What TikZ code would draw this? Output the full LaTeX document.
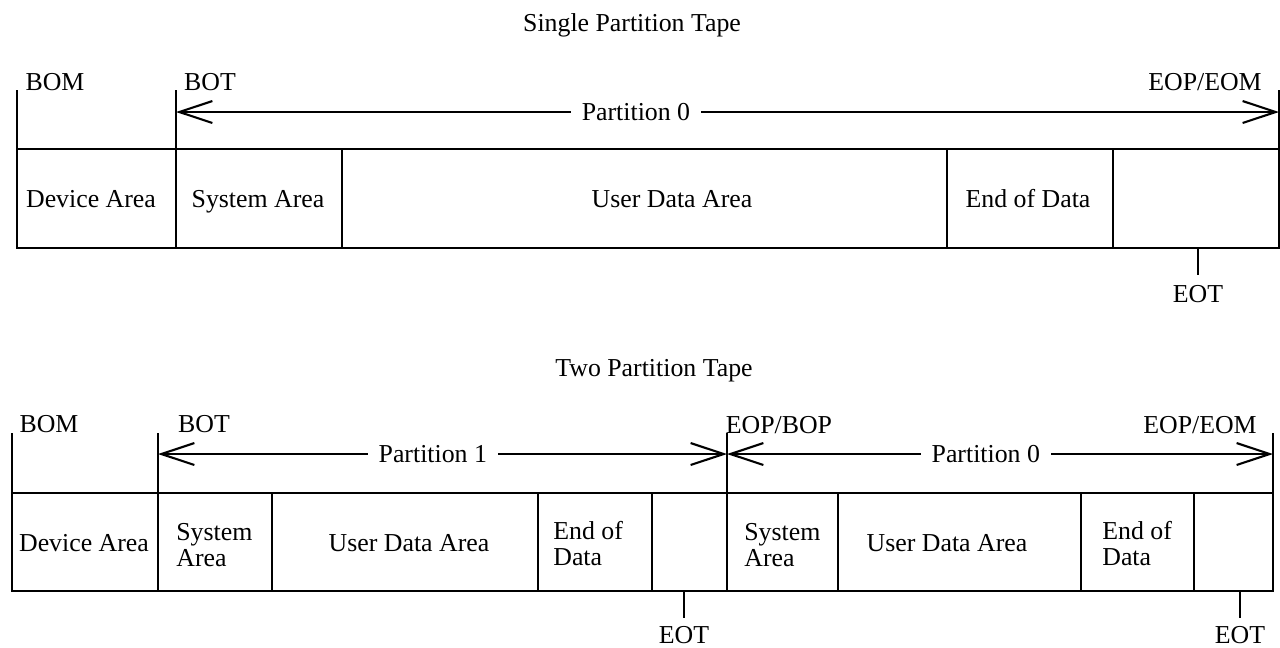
\documentclass[tikz,border=0pt]{standalone}
\usepackage{fontspec}
\setmainfont{Liberation Serif}
\usetikzlibrary{arrows.meta}
\tikzset{
    tape/.style={line width=1.2pt},
    span/.style={line width=1.2pt,
        {Straight Barb[length=18.8pt,width=12.5pt]}-{Straight Barb[length=18.8pt,width=12.5pt]}},
    lbl/.style={font=\fontsize{14.7}{14.8}\selectfont, inner sep=2pt,
        text height=9.7pt, text depth=0pt},
    pname/.style={lbl, fill=white, inner xsep=6pt},
    twoline/.style={font=\fontsize{14.7}{14.8}\selectfont, inner sep=0pt,
        align=left, anchor=west},
}
\begin{document}
\begin{tikzpicture}[x=0.02cm,y=-0.02cm]
    \useasboundingbox (0,0) rectangle (1280,647);
    %% single partition tape
    \node[lbl] (title1) at (632,23) {Single Partition Tape};
    \draw[tape] (17,90) -- (17,248) -- (1279,248) -- (1279,90);
    \draw[tape] (17,149) -- (1279,149);
    \draw[tape] (176,90) -- (176,149);
    \foreach \x in {176,342,947,1113}
        \draw[tape] (\x,149) -- (\x,248);
    \node[lbl] (bom1) at (55,82) {BOM};
    \node[lbl] (bot1) at (210,82) {BOT};
    \node[lbl] (eom1) at (1205,82) {EOP/EOM};
    \coordinate (s1) at (176,112);
    \coordinate (e1) at (1279,112);
    \draw[span] (s1) -- (e1) node[pname,pos=0.417] (p0a) {Partition 0};
    \node[lbl] (dev1) at (91,199) {Device Area};
    \node[lbl] (sys1) at (258,199) {System Area};
    \node[lbl] (usr1) at (672,199) {User Data Area};
    \node[lbl] (eod1) at (1028,199) {End of Data};
    %% EOT marker
    \coordinate (k1) at (1198,275);
    \node[lbl] (eot1) at (1198,294) {EOT};
    \draw[tape] (1198,248) -- (k1);
    %% two partition tape
    \node[lbl] (title2) at (654,368) {Two Partition Tape};
    \draw[tape] (12,433) -- (12,591) -- (1273,591) -- (1273,433);
    \draw[tape] (12,493) -- (1273,493);
    \draw[tape] (158,433) -- (158,493);
    \draw[tape] (727,433) -- (727,493);
    \foreach \x in {158,272,538,652,727,838,1081,1194}
        \draw[tape] (\x,493) -- (\x,591);
    \node[lbl] (bom2) at (49,424) {BOM};
    \node[lbl] (bot2) at (204,424) {BOT};
    \node[lbl] (bop2) at (779,425) {EOP/BOP};
    \node[lbl] (eom2) at (1200,425) {EOP/EOM};
    \coordinate (s2) at (158,454);
    \coordinate (m2) at (727,454);
    \coordinate (e2) at (1273,454);
    \draw[span] (s2) -- (m2) node[pname,pos=0.483] (p1) {Partition 1};
    \draw[span] (m2) -- (e2) node[pname,pos=0.474] (p0b) {Partition 0};
    \node[lbl] (dev2) at (84,543) {Device Area};
    \node[twoline] (sys2a) at (176,545) {System\\Area};
    \node[lbl] (usr2a) at (409,543) {User Data Area};
    \node[twoline] (eod2a) at (553,544) {End of\\Data};
    \node[twoline] (sys2b) at (744,545) {System\\Area};
    \node[lbl] (usr2b) at (947,543) {User Data Area};
    \node[twoline] (eod2b) at (1102,544) {End of\\Data};
    %% EOT markers
    \coordinate (k2) at (684,618);
    \coordinate (k3) at (1240,618);
    \node[lbl] (eot2a) at (684,635) {EOT};
    \node[lbl] (eot2b) at (1240,635) {EOT};
    \draw[tape] (684,591) -- (k2);
    \draw[tape] (1240,591) -- (k3);
\end{tikzpicture}
\end{document}
